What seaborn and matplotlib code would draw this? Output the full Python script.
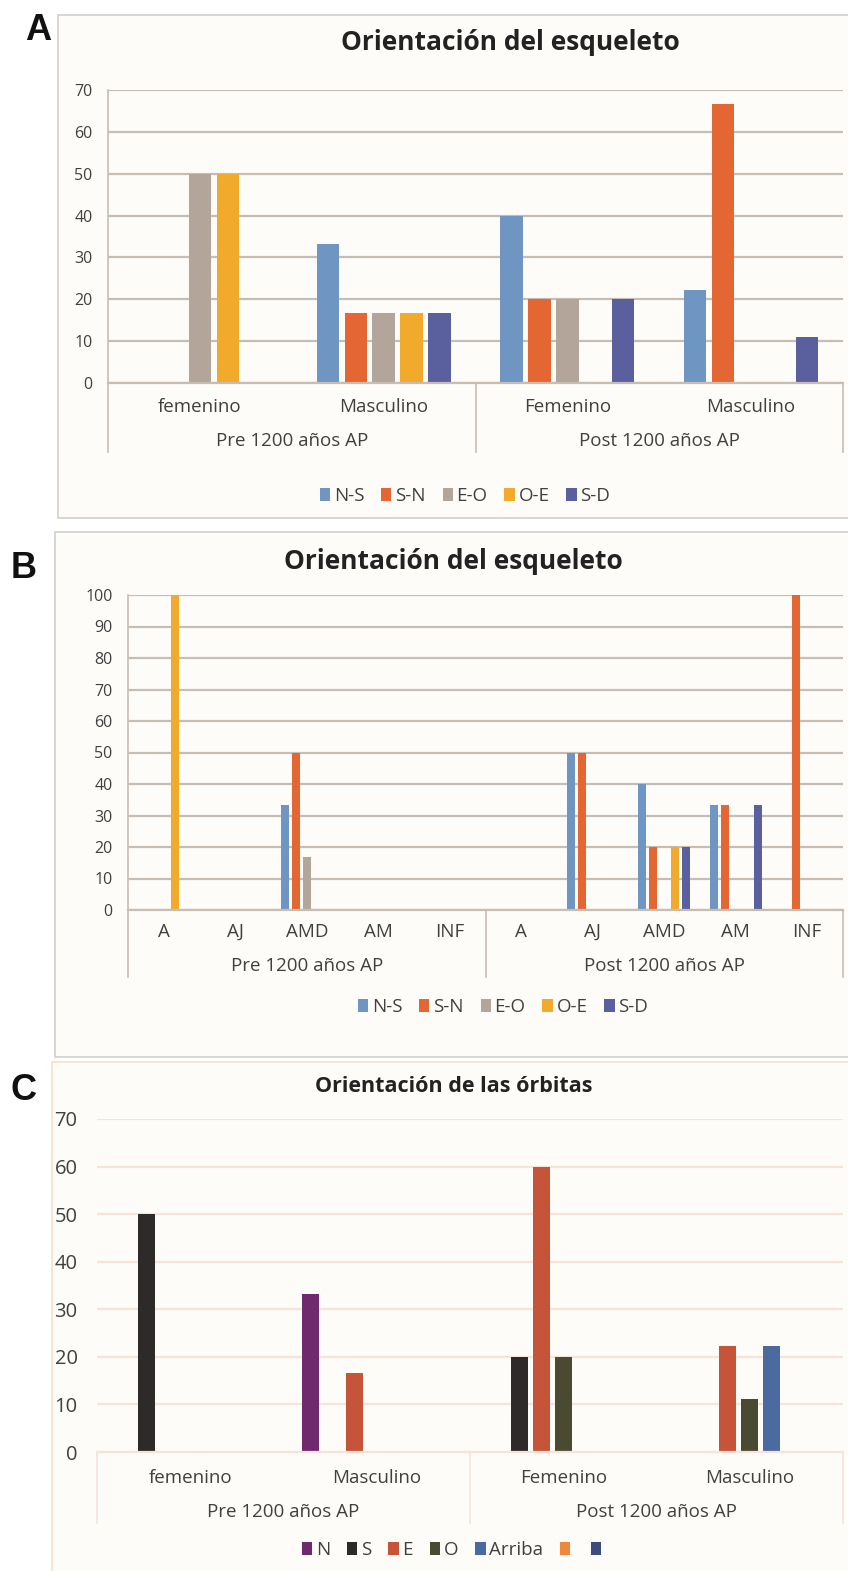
import numpy as np
import pandas as pd
import matplotlib
matplotlib.use("Agg")
import matplotlib.pyplot as plt
import seaborn as sns
from matplotlib.patches import Rectangle, Patch

W, H = 848, 1571

periods = ["Pre 1200 años AP", "Post 1200 años AP"]

# --- Panel A: orientación del esqueleto por sexo ---
subs_a = ["femenino", "Masculino", "Femenino", "Masculino"]
series_a = ["N-S", "S-N", "E-O", "O-E", "S-D"]
ns_a = [0, 33.3, 40, 22.2]
sn_a = [0, 16.7, 20, 66.7]
eo_a = [50, 16.7, 20, 0]
oe_a = [50, 16.7, 0, 0]
sd_a = [0, 16.7, 20, 11.1]

# --- Panel B: orientación del esqueleto por edad ---
subs_b = ["A", "AJ", "AMD", "AM", "INF", "A", "AJ", "AMD", "AM", "INF"]
ns_b = [0, 0, 33.3, 0, 0, 0, 50, 40, 33.3, 0]
sn_b = [0, 0, 50, 0, 0, 0, 50, 20, 33.3, 100]
eo_b = [0, 0, 16.7, 0, 0, 0, 0, 0, 0, 0]
oe_b = [100, 0, 0, 0, 0, 0, 0, 20, 0, 0]
sd_b = [0, 0, 0, 0, 0, 0, 0, 20, 33.3, 0]

# --- Panel C: orientación de las órbitas ---
subs_c = ["femenino", "Masculino", "Femenino", "Masculino"]
series_c = ["N", "S", "E", "O", "Arriba", "", " "]
n_c = [0, 33.3, 0, 0]
s_c = [50, 0, 20, 0]
e_c = [0, 16.7, 60, 22.2]
o_c = [0, 0, 20, 11.1]
arriba_c = [0, 0, 0, 22.2]
x6_c = [0, 0, 0, 0]
x7_c = [0, 0, 0, 0]

colors_ab = ["#6F96C3", "#E46632", "#B4A59A", "#F2AA2D", "#5A5F9D"]
colors_c = ["#6E2A6D", "#2E2A2A", "#C65438", "#4A4A32", "#4A6AA0", "#F0873A", "#3B4D7C"]

FONT = "Open Sans"
TXT = "#404040"
plt.rcParams["font.family"] = [FONT, "DejaVu Sans"]


def long_df(subs, series, values):
    keys = [f"{i}_{s}" for i, s in enumerate(subs)]
    rows = []
    for name, vals in zip(series, values):
        for k, v in zip(keys, vals):
            rows.append({"cat": k, "serie": name, "val": v})
    return pd.DataFrame(rows), keys


def px_axes(fig, x0, x1, ytop, ybot):
    return fig.add_axes([x0 / W, 1 - ybot / H, (x1 - x0) / W, (ybot - ytop) / H])


def draw_panel(fig, rect, subs, series, values, colors, ymax, width, gap,
               grid_color, y_sub, y_grp, y_end, show_left, label_fs, tick_fs, pad):
    x0, x1, ytop, ybot = rect
    ax = px_axes(fig, x0, x1, ytop, ybot)
    df, keys = long_df(subs, series, values)
    sns.barplot(data=df, x="cat", y="val", hue="serie", order=keys,
                hue_order=series, palette=colors, width=width, gap=gap,
                saturation=1, errorbar=None, legend=False, ax=ax)
    ax.set_facecolor("none")
    ax.set_ylim(0, ymax)
    ax.set_xlim(-0.5, len(keys) - 0.5)
    ax.set_yticks(np.arange(0, ymax + 1, 10))
    ax.yaxis.grid(True, color=grid_color, lw=1.6)
    ax.set_axisbelow(True)
    ax.tick_params(axis="y", length=0, pad=pad, labelsize=tick_fs, labelcolor=TXT)
    ax.tick_params(axis="x", length=0, labelbottom=False)
    ax.set_xlabel("")
    ax.set_ylabel("")
    for s in ["top", "right"]:
        ax.spines[s].set_visible(False)
    ax.spines["bottom"].set_color(grid_color)
    ax.spines["bottom"].set_linewidth(1.6)
    ax.spines["left"].set_visible(show_left)
    ax.spines["left"].set_color(grid_color)
    ax.spines["left"].set_linewidth(1.2)

    hpx = ybot - ytop
    to_ax = lambda ypx: -(ypx - ybot) / hpx
    tr = ax.get_xaxis_transform()
    n = len(keys)
    half = n // 2
    for i, s in enumerate(subs):
        ax.text(i, to_ax(y_sub), s, transform=tr, ha="center", va="center",
                fontsize=label_fs, color=TXT)
    for j, p in enumerate(periods):
        xc = j * half + (half - 1) / 2
        ax.text(xc, to_ax(y_grp), p, transform=tr, ha="center", va="center",
                fontsize=label_fs, color=TXT)
    for xs in [-0.5, half - 0.5, n - 0.5]:
        ax.plot([xs, xs], [0, to_ax(y_end)], transform=tr, color=grid_color,
                lw=1.2, clip_on=False)
    return ax


fig = plt.figure(figsize=(W / 100, H / 100), dpi=100)
fig.patch.set_facecolor("white")

# panel frames
for (bx, by0, by1, ec) in [(58, 15, 518, "#D3CFCB"), (55, 532, 1057, "#D3CFCB"),
                           (52, 1062, 1580, "#F6DFD2")]:
    fig.patches.append(Rectangle((bx / W, 1 - by1 / H), 800 / W, (by1 - by0) / H,
                                 transform=fig.transFigure, fc="#FDFCF9", ec=ec,
                                 lw=1.2, zorder=-10))

# A
draw_panel(fig, (108, 843, 90, 383), subs_a, series_a,
           [ns_a, sn_a, eo_a, oe_a, sd_a], colors_ab, 70, 0.76, 0.2,
           "#C6BDB5", 407, 441, 452, True, 13.5, 11.5, 11)
# B
draw_panel(fig, (128, 843, 595, 910), subs_b, series_a,
           [ns_b, sn_b, eo_b, oe_b, sd_b], colors_ab, 100, 0.77, 0.28,
           "#C6BDB5", 932, 966, 977, True, 13.5, 11.5, 11)
# C
draw_panel(fig, (97, 843, 1119, 1452), subs_c, series_c,
           [n_c, s_c, e_c, o_c, arriba_c, x6_c, x7_c], colors_c, 70, 0.83, 0.23,
           "#F8E3D8", 1478, 1512, 1523, False, 13.5, 14.5, 14)

# titles
fig.text(510 / W, 1 - 43 / H, "Orientación del esqueleto", ha="center", va="center",
         fontsize=19, fontweight="bold", color="#222222")
fig.text(453 / W, 1 - 562 / H, "Orientación del esqueleto", ha="center", va="center",
         fontsize=19, fontweight="bold", color="#222222")
fig.text(454 / W, 1 - 1086 / H, "Orientación de las órbitas", ha="center", va="center",
         fontsize=15.5, fontweight="bold", color="#222222")

# panel letters
for lbl, x, y in [("A", 38, 30), ("B", 24, 568), ("C", 24, 1090)]:
    fig.text(x / W, 1 - y / H, lbl, ha="center", va="center", fontsize=26,
             fontweight="bold", family=["Liberation Sans", "DejaVu Sans"], color="#111111")


# legends
def add_legend(names, colors, xc, yc):
    handles = [Patch(facecolor=c, edgecolor="none") for c in colors]
    fig.legend(handles, names, loc="center", bbox_to_anchor=(xc / W, 1 - yc / H),
               ncol=len(names), frameon=False, fontsize=13.5, handlelength=0.55,
               handleheight=0.75, handletextpad=0.2, columnspacing=0.9,
               labelcolor=TXT)


add_legend(series_a, colors_ab, 465, 496)
add_legend(series_a, colors_ab, 503, 1007)
add_legend(series_c, colors_c, 456, 1550)

fig.savefig("out.png", dpi=100, facecolor="white")
